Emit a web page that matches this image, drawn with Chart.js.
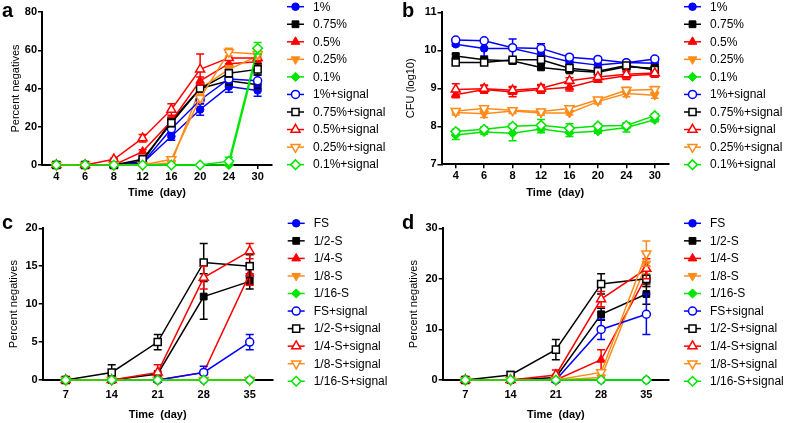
<!DOCTYPE html>
<html><head><meta charset="utf-8">
<script src="https://cdn.jsdelivr.net/npm/chart.js@4/dist/chart.umd.min.js"></script>
<style>
html,body{margin:0;padding:0;background:#fff;width:787px;height:423px;overflow:hidden}
.p{position:absolute}
canvas{display:block}
</style></head><body>
<div class="p" style="left:0;top:0"><canvas id="ca" width="400" height="205"></canvas></div>
<div class="p" style="left:400px;top:0"><canvas id="cb" width="387" height="205"></canvas></div>
<div class="p" style="left:0;top:210px"><canvas id="cc" width="400" height="213"></canvas></div>
<div class="p" style="left:400px;top:210px"><canvas id="cd" width="387" height="213"></canvas></div>
<script>
// ---------- data ----------
const daysAB = ['4','6','8','12','16','20','24','30'];
const daysCD = ['7','14','21','28','35'];
const namesAB = ['1%','0.75%','0.5%','0.25%','0.1%','1%+signal','0.75%+signal','0.5%+signal','0.25%+signal','0.1%+signal'];
const namesCD = ['FS','1/2-S','1/4-S','1/8-S','1/16-S','FS+signal','1/2-S+signal','1/4-S+signal','1/8-S+signal','1/16-S+signal'];

const panelAValues = [
  [0,0,0,1,15,29,41,39],
  [0,0,0,2,23,40,44,42],
  [0,0,0,7,23,44,53,54],
  [0,0,0,0,1,40,50,57],
  [0,0,0,0,0,0,0,59],
  [0,0,0,1,19,34,45,44],
  [0,0,0,3,22,40,48,50],
  [0,0,3,14,29,50,56,56],
  [0,0,0,0,3,35,59,58],
  [0,0,0,0,0,0,2,61]
];
const panelAErrors = [
  [0,0,0,0.5,2,3,3,3],
  [0,0,0,0.5,2,2,2,2],
  [0,0,0,1,2,2,2,2],
  [0,0,0,0,0.5,2,2,2],
  [0,0,0,0,0,0,0,2],
  [0,0,0,0.5,2,2,2,3],
  [0,0,0,0.5,2,2,2,3],
  [0,0,0.5,2,3,8,3,2],
  [0,0,0,0,1,2,2,2],
  [0,0,0,0,0,0,2,3]
];
const panelBValues = [
  [10.16,10.05,10.05,9.88,9.70,9.61,9.68,9.66],
  [9.85,9.75,9.72,9.55,9.47,9.42,9.57,9.53],
  [8.83,8.97,8.90,8.97,9.03,9.22,9.33,9.37],
  [8.36,8.33,8.40,8.35,8.35,8.65,8.86,8.82],
  [7.77,7.85,7.82,7.93,7.83,7.87,7.97,8.17],
  [10.27,10.25,10.07,10.05,9.82,9.76,9.67,9.77],
  [9.68,9.68,9.75,9.75,9.53,9.45,9.60,9.48],
  [8.97,8.99,8.95,9.00,9.20,9.30,9.37,9.40],
  [8.40,8.47,8.42,8.39,8.47,8.70,8.95,8.97],
  [7.86,7.92,8.00,8.03,7.95,8.01,8.02,8.28]
];
const panelBErrors = [
  [0.05,0.2,0.25,0.08,0.06,0.05,0.05,0.08],
  [0.05,0.05,0.08,0.05,0.05,0.05,0.08,0.08],
  [0.08,0.1,0.12,0.1,0.1,0.06,0.1,0.08],
  [0.06,0.1,0.06,0.06,0.05,0.06,0.08,0.08],
  [0.12,0.06,0.2,0.1,0.1,0.05,0.12,0.05],
  [0.04,0.04,0.05,0.12,0.05,0.05,0.05,0.05],
  [0.05,0.05,0.05,0.06,0.05,0.05,0.06,0.08],
  [0.15,0.1,0.1,0.1,0.08,0.05,0.08,0.05],
  [0.06,0.06,0.06,0.06,0.06,0.06,0.08,0.08],
  [0.06,0.06,0.06,0.15,0.12,0.05,0.06,0.05]
];
const panelCValues = [
  [0,0,0,0,0],
  [0,0,0.8,11,13],
  [0,0,0,1,14],
  [0,0,0,0,0],
  [0,0,0,0,0],
  [0,0,0,1,5],
  [0,1,5,15.5,15],
  [0,0,1,13.5,17],
  [0,0,0,0,0],
  [0,0,0,0,0]
];
const panelCErrors = [
  [0,0,0,0,0],
  [0,0,0,3,1],
  [0,0,0,0,1.5],
  [0,0,0,0,0],
  [0,0,0,0,0],
  [0,0,0,0.8,1],
  [0,1,1,2.5,1.5],
  [0,0,1,1.5,1],
  [0,0,0,0,0],
  [0,0,0,0,0]
];
const panelDValues = [
  [0,0,0,0,0],
  [0,0,0.5,13,17],
  [0,0,0,4,20.5],
  [0,0,0,0.5,23],
  [0,0,0,0,0],
  [0,0,0,10,13],
  [0,1,6,19,20],
  [0,0,1,16,22],
  [0,0,0,1.5,25],
  [0,0,0,0,0]
];
const panelDErrors = [
  [0,0,0,0,0],
  [0,0,0,1.2,2],
  [0,0,0,2,2],
  [0,0,0,0,2],
  [0,0,0,0,0],
  [0,0,0,2,4],
  [0,0.7,2,2,1.5],
  [0,0,1,1.5,2],
  [0,0,0,0.5,2.5],
  [0,0,0,0,0]
];
const yTicksA = [0, 80, 20];
const yTicksB = [7, 11, 1];
const yTicksC = [0, 20, 5];
const yTicksD = [0, 30, 10];

// ---------- styling ----------
const FONT = "'Liberation Sans', Arial, Helvetica, sans-serif";
Chart.defaults.font.family = FONT;
const colors = ['#0000ff','#000000','#ff0000','#ff8c1a','#00e600'];
const shapes = ['circle','rect','triangle','triangle','rectRot'];
const rots = [0,0,0,180,0];
const radii = [3.8,4.8,5,5,4.6];

function drawMarker(ctx, ds, x, y) {
  ctx.fillStyle = ds.pointBackgroundColor;
  ctx.strokeStyle = ds.pointBorderColor;
  ctx.lineWidth = ds.pointBorderWidth;
  if (Chart.helpers && Chart.helpers.drawPoint) {
    Chart.helpers.drawPoint(ctx, {pointStyle: ds.pointStyle, rotation: ds.pointRotation, radius: ds.pointRadius, borderWidth: ds.pointBorderWidth}, x, y);
  } else {
    ctx.beginPath(); ctx.arc(x, y, ds.pointRadius, 0, Math.PI*2); ctx.fill(); ctx.stroke();
  }
}

const errPlugin = {
  id: 'errbars',
  beforeDatasetDraw(chart, args) {
    const ds = chart.data.datasets[args.index];
    if (!ds.err) return;
    const ys = chart.scales.y, ctx = chart.ctx;
    ctx.save();
    ctx.strokeStyle = ds.borderColor; ctx.lineWidth = 1.5;
    args.meta.data.forEach((pt, i) => {
      const e = ds.err[i]; if (!e) return;
      const v = ds.data[i], x = pt.x;
      const yt = ys.getPixelForValue(v + e), yb = ys.getPixelForValue(Math.max(v - e, ys.min));
      ctx.beginPath();
      ctx.moveTo(x, yt); ctx.lineTo(x, yb);
      ctx.moveTo(x - 4, yt); ctx.lineTo(x + 4, yt);
      if (v - e >= ys.min) { ctx.moveTo(x - 4, yb); ctx.lineTo(x + 4, yb); }
      ctx.stroke();
    });
    ctx.restore();
  }
};

const sidePlugin = {
  id: 'side',
  afterDraw(chart, args, o) {
    const ctx = chart.ctx, ca = chart.chartArea;
    chart.data.datasets.forEach((ds, i) => {
      const y = ca.top + o.top + i * o.step;
      const x0 = ca.right + o.x0, x1 = ca.right + o.x1;
      ctx.save();
      ctx.strokeStyle = ds.borderColor; ctx.lineWidth = 1.5;
      ctx.beginPath(); ctx.moveTo(x0, y); ctx.lineTo(x1, y); ctx.stroke();
      drawMarker(ctx, ds, (x0 + x1) / 2, y);
      ctx.fillStyle = '#000'; ctx.font = '12px ' + FONT; ctx.textBaseline = 'middle'; ctx.textAlign = 'left';
      ctx.fillText(ds.label, ca.right + o.tx, y + 0.5);
      ctx.restore();
    });
    ctx.save();
    ctx.fillStyle = '#000'; ctx.font = 'bold 20px ' + FONT; ctx.textBaseline = 'alphabetic';
    ctx.fillText(o.letter, o.lx, o.ly);
    ctx.restore();
  }
};

function makeChart(id, labels, names, values, errors, yt, cfg) {
  const datasets = names.map((n, i) => {
    const k = i % 5, open = i >= 5;
    return {
      label: n, data: values[i], err: errors[i],
      borderColor: colors[k], backgroundColor: colors[k], borderWidth: 1.5,
      pointStyle: shapes[k], pointRotation: rots[k], pointRadius: radii[k] + (open ? 0.2 : 0),
      pointBackgroundColor: open ? '#ffffff' : colors[k], pointBorderColor: colors[k],
      pointBorderWidth: open ? 1.5 : 1, pointHoverRadius: radii[k],
      tension: 0, clip: false, order: 10 - i, fill: false
    };
  });
  const tickFont = {family: FONT, size: 11, weight: 'bold'};
  return new Chart(document.getElementById(id), {
    type: 'line',
    data: {labels, datasets},
    options: {
      responsive: false, animation: false, devicePixelRatio: 1,
      layout: {padding: cfg.pad},
      plugins: {legend: {display: false}, tooltip: {enabled: false},
        side: {top: cfg.legTop, step: 17.55, x0: 15, x1: 32, tx: 41, letter: cfg.letter, lx: 2, ly: cfg.ly}},
      scales: {
        x: {type: 'category', offset: true,
          grid: {display: true, drawOnChartArea: false, drawTicks: true, tickLength: 4, color: '#000', lineWidth: 1.5},
          border: {display: true, color: '#000', width: 2},
          ticks: {color: '#000', font: tickFont, padding: cfg.xPad, maxRotation: 0, autoSkip: false},
          title: {display: true, text: 'Time  (day)', color: '#000', font: {family: FONT, size: 11, weight: 'bold'}, padding: {top: 0, bottom: cfg.titleBottom}},
          afterFit(s) { s.height = cfg.xH; }
        },
        y: {min: yt[0], max: yt[1],
          grid: {display: true, drawOnChartArea: false, drawTicks: true, tickLength: 4, color: '#000', lineWidth: 1.5},
          border: {display: true, color: '#000', width: 2},
          ticks: {stepSize: yt[2], color: '#000', font: tickFont, padding: 1},
          title: {display: true, text: cfg.yTitle, color: '#000', font: {family: FONT, size: 11}, padding: {top: 4, bottom: 4}},
          afterFit(s) { s.width = cfg.yW; }
        }
      }
    },
    plugins: [errPlugin, sidePlugin]
  });
}

makeChart('ca', daysAB, namesAB, panelAValues, panelAErrors, yTicksA,
  {pad: {left: 5.4, top: 12, right: 128, bottom: 0}, yW: 36.6, xH: 40, xPad: 1, titleBottom: 5,
   yTitle: 'Percent negatives', legTop: -5.3, letter: 'a', ly: 17});
makeChart('cb', daysAB, namesAB, panelBValues, panelBErrors, yTicksB,
  {pad: {left: 0.5, top: 12.3, right: 118, bottom: 0}, yW: 41, xH: 40.7, xPad: 1, titleBottom: 5,
   yTitle: 'CFU (log10)', legTop: -5.6, letter: 'b', ly: 17});
makeChart('cc', daysCD, namesCD, panelCValues, panelCErrors, yTicksC,
  {pad: {left: 3.5, top: 18.3, right: 127.3, bottom: 0}, yW: 39.2, xH: 43, xPad: 4, titleBottom: 1,
   yTitle: 'Percent negatives', legTop: -5, letter: 'c', ly: 18.5});
makeChart('cd', daysCD, namesCD, panelDValues, panelDErrors, yTicksD,
  {pad: {left: 3.5, top: 18.3, right: 118, bottom: 0}, yW: 39.2, xH: 43, xPad: 4, titleBottom: 1,
   yTitle: 'Percent negatives', legTop: -5, letter: 'd', ly: 18.5});
</script>
</body></html>
